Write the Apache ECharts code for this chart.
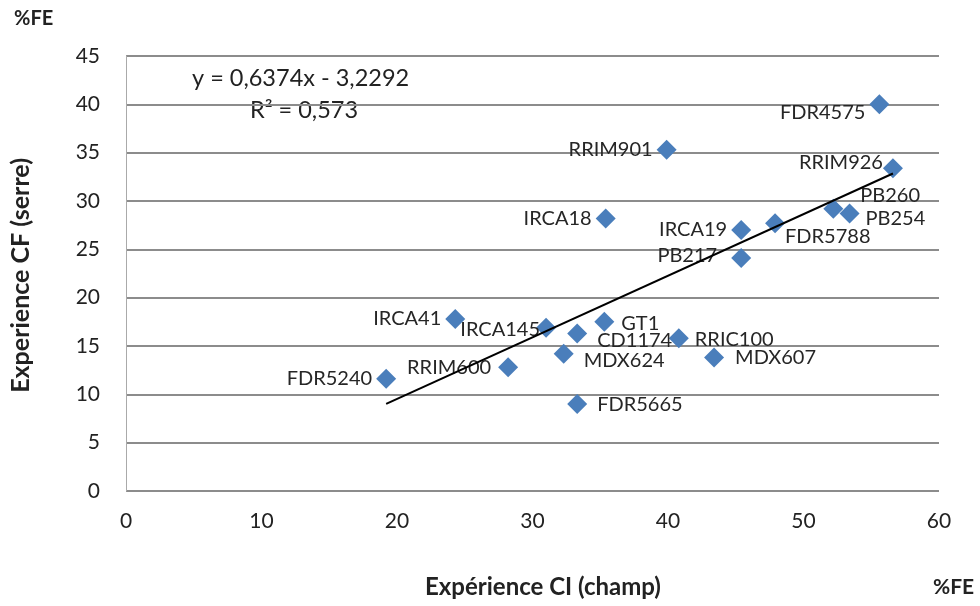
<!DOCTYPE html>
<html>
<head>
<meta charset="utf-8">
<script src="https://cdn.jsdelivr.net/npm/echarts@6/dist/echarts.min.js"></script>
<style>
	html, body { margin: 0; padding: 0; background: #fff; }
	#mychart { width: 980px; height: 606px; }
</style>
</head>
<body>
<div id="mychart"></div>
<script>
// clones
var clones = ['FDR5240', 'RRIM600', 'IRCA41', 'IRCA145', 'MDX624', 'CD1174', 'GT1', 'FDR5665',
	'RRIC100', 'MDX607', 'RRIM901', 'IRCA18', 'PB217', 'IRCA19', 'FDR5788', 'PB260', 'PB254',
	'RRIM926', 'FDR4575'];
// %FE champ (x)
var champ = [19.2, 28.2, 24.3, 31.0, 32.3, 33.3, 35.3, 33.3,
	40.8, 43.4, 39.9, 35.4, 45.4, 45.4, 47.9, 52.2, 53.4,
	56.6, 55.6];
// %FE serre (y)
var serre = [11.6, 12.8, 17.8, 16.9, 14.2, 16.3, 17.5, 9.0,
	15.8, 13.8, 35.3, 28.2, 24.1, 27.0, 27.7, 29.2, 28.7,
	33.4, 40.0];
// courbe de tendance y = a x + b
var slope = 0.6374;
var intercept = -3.2292;
var eqText = 'y = 0,6374x - 3,2292';
var r2Text = 'R² = 0,573';

// placement des étiquettes : côté + décalage
var labelPos = {
	'GT1': ['right', 3, 2],
	'MDX624': ['right', 6, 7],
	'CD1174': ['right', 6, 7],
	'FDR5665': ['right', 6, 1],
	'RRIC100': ['right', 2, 1],
	'MDX607': ['right', 7, 0],
	'FDR5788': ['right', -4, 13],
	'PB260': ['right', 13, -13],
	'PB254': ['right', 2, 5],
	'IRCA145': ['left', 8, 2],
	'PB217': ['left', -10, -2],
	'RRIM600': ['left', -3, 0],
	'RRIM926': ['left', 4, -6],
	'FDR4575': ['left', 0, 8]
};

function lpOf(name) {
	return labelPos[name] || ['left', 0, 0];
}

var pts = [];
for(var i = 0; i < clones.length; i++) {
	pts.push({
		name: clones[i],
		value: [champ[i], serre[i]],
		label: { position: lpOf(clones[i])[0] }
	});
}
var xMin = Math.min.apply(null, champ);
var xMax = Math.max.apply(null, champ);
var trend = [[xMin, slope * xMin + intercept], [xMax, slope * xMax + intercept]];

var font = 'Lato, "Open Sans", sans-serif';
var myChart = echarts.init(document.getElementById('mychart'));
var option = {
	animation: false,
	backgroundColor: '#fff',
	grid: { left: 126, right: 41, top: 56, bottom: 115 },
	xAxis: {
		type: 'value', min: 0, max: 60, interval: 10,
		axisLine: { show: false },
		axisTick: { show: false },
		splitLine: { show: false },
		axisLabel: { color: '#222', fontFamily: font, fontSize: 21, margin: 20 }
	},
	yAxis: {
		type: 'value', min: 0, max: 45, interval: 5,
		axisLine: { show: true, lineStyle: { color: '#aaa', width: 1 } },
		axisTick: { show: false },
		splitLine: { show: true, lineStyle: { color: '#8c8c8c', width: 2 } },
		axisLabel: { color: '#222', fontFamily: font, fontSize: 21, margin: 26 }
	},
	series: [{
		type: 'line',
		data: trend,
		symbol: 'none',
		silent: true,
		lineStyle: { color: '#000', width: 2 },
		z: 3
	}, {
		type: 'scatter',
		data: pts,
		symbol: 'diamond',
		symbolSize: 20,
		itemStyle: { color: '#4a7ebb', opacity: 1 },
		label: {
			show: true,
			formatter: '{b}',
			color: '#262626',
			fontFamily: font,
			fontSize: 20,
			distance: 4
		},
		labelLayout: function(p) {
			var lp = lpOf(clones[p.dataIndex]);
			return { dx: lp[1], dy: lp[2], hideOverlap: false };
		},
		z: 2
	}],
	graphic: [
		{ type: 'text', left: 14, top: 9, style: { text: '%FE', font: 'bold 20px ' + font, fill: '#222' } },
		{ type: 'text', left: 933, top: 577, style: { text: '%FE', font: 'bold 21px ' + font, fill: '#222' } },
		{ type: 'text', left: 425, top: 575, style: { text: 'Expérience CI (champ)', font: 'bold 24px ' + font, fill: '#222' } },
		{ type: 'text', left: 8, top: 158, rotation: Math.PI / 2,
			style: { text: 'Experience CF (serre)', font: 'bold 25px ' + font, fill: '#222' } },
		{ type: 'text', left: 192, top: 66, style: { text: eqText, font: '23.5px ' + font, fill: '#222' } },
		{ type: 'text', left: 250, top: 98, style: { text: r2Text, font: '23.5px ' + font, fill: '#222' } }
	]
};
myChart.setOption(option);
</script>
</body>
</html>
